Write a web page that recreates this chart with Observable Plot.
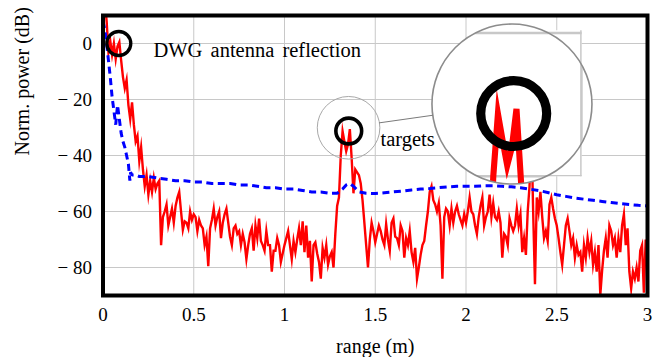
<!DOCTYPE html>
<html>
<head>
<meta charset="utf-8">
<script src="https://cdn.jsdelivr.net/npm/d3@7"></script>
<script src="https://cdn.jsdelivr.net/npm/@observablehq/plot@0.6"></script>
<style>
  body { margin: 0; background: #fff; }
  svg { display: block; }
</style>
</head>
<body>
<div id="chart"></div>
<script>
// ---- tick labels ----
const xTicks = [0, 0.5, 1, 1.5, 2, 2.5, 3];
const yTicks = [0, -20, -40, -60, -80];

// ---- red series: measured power (dB), sampled every 0.01 m from 0 to 3 m ----
const rangeStep = 0.01;
const redPower = [
  13, 15, 8, -3, 1, -4, 0, -5.5, -1, 0.5,
  -6, -12, -16, -13, -22, -27, -21, -29, -35, -33,
  -42, -37, -45, -51, -47, -54, -49, -53, -48, -52,
  -50, -49, -72, -62, -60, -57.5, -65, -62, -59, -64,
  -58, -55, -53, -60, -66.5, -63.5, -64, -66, -60, -63,
  -61, -62, -67, -63, -65, -66, -72, -69, -79.5, -66,
  -63, -59, -65, -62, -60, -69.5, -64, -61, -59, -64,
  -69, -72, -66, -65, -68, -67, -72, -68, -71, -77,
  -72, -68, -66, -74, -65, -69.5, -62.5, -70.5, -72, -74,
  -67, -72, -72, -81.5, -74, -74, -69.5, -72, -78, -75,
  -72, -69.5, -67, -72, -77, -70.5, -74.5, -70, -66, -72,
  -63.5, -74.5, -65, -76.5, -70.5, -85, -72, -71, -75, -78,
  -84, -73, -76.5, -72, -79, -76, -74.5, -80, -68, -58,
  -55, -40, -31.3, -35, -38.5, -36, -30.6, -41, -53.5, -45,
  -46, -47, -50, -56, -64, -72, -80, -70, -64, -67,
  -71, -68, -65, -67, -70, -72, -64.5, -70, -74, -64,
  -62.5, -69, -69.5, -72, -65, -67, -76.5, -69.5, -72, -67,
  -74.5, -78, -73, -84, -80, -75.5, -72, -70.5, -65, -60,
  -53, -51, -56, -57.5, -60, -57, -65, -84, -62, -59,
  -60, -65, -59, -64, -60, -58, -61, -63, -65, -61,
  -64, -60, -55, -60, -61, -65, -68, -62, -58, -55,
  -65, -62, -60, -54, -62, -57, -62, -63, -60, -64,
  -76.5, -68, -69, -72, -62.5, -65, -67, -65, -59, -65,
  -61, -74.5, -69.5, -75.5, -60, -51, -30, -60, -86, -55,
  -60, -53, -62, -69.5, -67, -70.5, -57.5, -55, -59, -62.5,
  -65, -69.5, -74.5, -79, -72, -65, -62.5, -67, -72, -69.5,
  -76.5, -72, -75.5, -74.5, -81.5, -72, -76.5, -69.5, -74.5, -70.5,
  -79, -74.5, -81.5, -72, -89.8, -81, -74, -69.5, -76.5, -65,
  -67, -72, -69.5, -76.5, -69.5, -74.5, -65, -61, -72, -66,
  -81.5, -87.5, -81.5, -84, -80, -85, -74, -72, -89, -70,
  -80
];

// ---- blue dashed series ----
const bluePos = [
  0, 0.01, 0.02, 0.03, 0.04, 0.05, 0.06, 0.07, 0.08, 0.09,
  0.10, 0.11, 0.12, 0.13, 0.14, 0.148, 0.152, 0.16, 0.18, 0.2,
  0.25, 0.3, 0.35, 0.4, 0.45, 0.5, 0.55, 0.6, 0.65, 0.7,
  0.75, 0.8, 0.85, 0.9, 0.95, 1.0, 1.05, 1.1, 1.15, 1.2,
  1.25, 1.29, 1.32, 1.34, 1.36, 1.38, 1.41, 1.45, 1.5, 1.55,
  1.6, 1.65, 1.7, 1.75, 1.8, 1.85, 1.9, 1.95, 2.0, 2.05,
  2.1, 2.15, 2.2, 2.25, 2.3, 2.35, 2.4, 2.45, 2.5, 2.55,
  2.6, 2.65, 2.7, 2.75, 2.8, 2.85, 2.9, 2.95, 3.0
];
const bluePower = [
  8, 5, 0, -6, -12, -19, -24, -29, -22, -27,
  -32, -35, -37, -40, -43, -49, -46, -47, -47, -47.5,
  -47.5, -48, -48.5, -49, -49, -49.5, -49.5, -50, -50, -50,
  -50.5, -50.5, -51, -51.5, -51.5, -52, -52, -52.5, -53, -53,
  -53.5, -53.5, -52, -50.5, -50, -51, -53, -53.5, -53.6, -53.3,
  -53, -52.7, -52.3, -52, -51.8, -51.5, -51.2, -51, -51, -51,
  -50.8, -50.8, -51, -51.2, -51.5, -52, -52.5, -53.2, -54, -54.6,
  -55.2, -55.6, -56, -56.4, -56.8, -57.2, -57.5, -57.8, -58
];

// ---- annotations (data units) ----
const noteText = ["DWG antenna reflection", "targets"];
const noteX = [0.278, 1.529];
const noteY = [-2.3, -34.25];
const spotX = [0.087, 1.354];
const spotY = [0, -31.25];
const spyCenter = [1.353, -30.1];   // small spy circle
const magCenter = [2.256, -21.8];   // magnified view
const spyBox = [1.5, -20, -40];     // grid lines framing the magnified area

const serif = "'Liberation Serif', 'Times New Roman', Times, serif";
const minus = d => d < 0 ? "\u2212 " + Math.abs(d) : String(d);

const plot = Plot.plot({
  width: 656,
  height: 357,
  marginTop: 15,
  marginBottom: 62,
  marginLeft: 102.5,
  marginRight: 9,
  style: { fontFamily: serif, fontSize: "19px", background: "white", color: "black" },
  x: { domain: [0, 3], ticks: xTicks, tickFormat: d => String(d), tickSize: 0, tickPadding: 11.5, label: null },
  y: { domain: [-90, 10], ticks: yTicks, tickFormat: minus, tickSize: 0, tickPadding: 11, label: null },
  marks: [
    Plot.ruleX(xTicks, { stroke: "#c8c8c8", strokeWidth: 1, ariaDescription: "grid-x" }),
    Plot.ruleY(yTicks, { stroke: "#c8c8c8", strokeWidth: 1, ariaDescription: "grid-y" }),
    Plot.line(redPower, {
      x: (d, i) => i * rangeStep, y: d => d,
      stroke: "#ff0000", strokeWidth: 2.4, strokeLinejoin: "miter", strokeLinecap: "butt",
      strokeMiterlimit: 10, ariaDescription: "red"
    }),
    Plot.line(bluePower, {
      x: (d, i) => bluePos[i], y: d => d,
      stroke: "#0000ff", strokeWidth: 3, strokeDasharray: "7,4.5", strokeLinecap: "butt",
      strokeLinejoin: "miter", ariaDescription: "blue"
    }),
    Plot.dot([spotX[0]], { x: d => d, y: () => spotY[0], r: 12, stroke: "black", strokeWidth: 3.3, fill: "none", ariaDescription: "spot-dwg" }),
    Plot.dot([spotX[1]], { x: d => d, y: () => spotY[1], r: 12.9, stroke: "black", strokeWidth: 3.6, fill: "none", ariaDescription: "spot-target" }),
    Plot.dot([spyCenter], { x: d => d[0], y: d => d[1], r: 31.3, stroke: "#a8a8a8", strokeWidth: 1, fill: "none", ariaDescription: "spy" }),
    Plot.text(noteText, {
      x: (d, i) => noteX[i], y: (d, i) => noteY[i], text: d => d,
      textAnchor: "start", lineAnchor: "middle", fontSize: 20.5, fill: "black", ariaDescription: "notes"
    }),
    Plot.text(["range (m)"], { frameAnchor: "bottom", dy: 50.6, lineAnchor: "middle", fontSize: 20, fill: "black" }),
    Plot.text(["Norm. power (dB)"], { frameAnchor: "left", dx: -80, rotate: -90, lineAnchor: "middle", fontSize: 20, fill: "black" }),
    Plot.frame({ stroke: "black", strokeWidth: 4, ariaDescription: "frame" })
  ]
});

document.getElementById("chart").appendChild(plot);

(function () {
  const svg = plot.tagName.toLowerCase() === "svg" ? plot : plot.querySelector("svg");
  const ns = "http://www.w3.org/2000/svg";
  const sx = plot.scale("x"), sy = plot.scale("y");
  const lin = s => (s && typeof s.apply === "function")
    ? (v => s.apply(v))
    : (v => s.range[0] + (v - s.domain[0]) / (s.domain[1] - s.domain[0]) * (s.range[1] - s.range[0]));
  const X = lin(sx), Y = lin(sy);
  const el = (tag, attrs) => {
    const e = document.createElementNS(ns, tag);
    for (const a in attrs) e.setAttribute(a, attrs[a]);
    return e;
  };
  const mark = name => svg.querySelector(`[aria-description="${name}"]`);

  svg.querySelectorAll("text").forEach(t => t.style.fontFamily = serif);

  // clip the curves to the frame
  const fx0 = X(0), fx1 = X(3), fy0 = Y(10), fy1 = Y(-90);
  const defs = el("defs", {});
  const fc = el("clipPath", { id: "frame-clip" });
  fc.appendChild(el("rect", { x: Math.min(fx0, fx1), y: Math.min(fy0, fy1), width: Math.abs(fx1 - fx0), height: Math.abs(fy1 - fy0) }));
  defs.appendChild(fc);
  svg.insertBefore(defs, svg.firstChild);
  for (const label of ["red", "blue"]) {
    const g = mark(label);
    if (g) g.setAttribute("clip-path", "url(#frame-clip)");
  }

  // magnifier (spy) built from clones of the plotted marks
  const cx0 = X(spyCenter[0]), cy0 = Y(spyCenter[1]);
  const cx1 = X(magCenter[0]), cy1 = Y(magCenter[1]);
  const rSpy = 31.3, rMag = 80, k = rMag / rSpy;
  const mx = px => cx1 + (px - cx0) * k;
  const my = py => cy1 + (py - cy0) * k;
  const gx = mx(X(spyBox[0])), gyTop = my(Y(spyBox[1])), gyBot = my(Y(spyBox[2]));
  const pad = k * 0.5 + 0.2;
  const rx = cx1 - 12, ry = gyTop - pad, rw = gx + pad - rx, rh = gyBot + pad - ry;

  const cp = el("clipPath", { id: "spy-clip" });
  cp.appendChild(el("circle", { cx: cx1, cy: cy1, r: rMag }));
  cp.appendChild(el("rect", { x: rx, y: ry, width: rw, height: rh }));
  defs.appendChild(cp);

  const g = el("g", { "clip-path": "url(#spy-clip)" });
  g.appendChild(el("rect", { x: 0, y: 0, width: 656, height: 357, fill: "white" }));
  const inner = el("g", { transform: `translate(${cx1},${cy1}) scale(${k}) translate(${-cx0},${-cy0})` });
  for (const label of ["grid-x", "grid-y", "blue", "red", "spot-target"]) {
    const src = mark(label);
    if (src) {
      const c = src.cloneNode(true);
      c.removeAttribute("clip-path");
      c.removeAttribute("aria-description");
      inner.appendChild(c);
    }
  }
  g.appendChild(inner);

  const before = mark("frame") || null;
  svg.insertBefore(g, before);
  svg.insertBefore(el("circle", { cx: cx1, cy: cy1, r: rMag, fill: "none", stroke: "#8c8c8c", "stroke-width": 1.6 }), before);

  const dx = cx1 - cx0, dy = cy1 - cy0, d = Math.hypot(dx, dy), ux = dx / d, uy = dy / d;
  svg.insertBefore(el("line", {
    x1: cx0 + ux * rSpy, y1: cy0 + uy * rSpy, x2: cx1 - ux * rMag, y2: cy1 - uy * rMag,
    stroke: "#7a7a7a", "stroke-width": 1
  }), before);

  const notes = mark("notes");
  if (notes) notes.style.wordSpacing = "3px";
})();
</script>
</body>
</html>
